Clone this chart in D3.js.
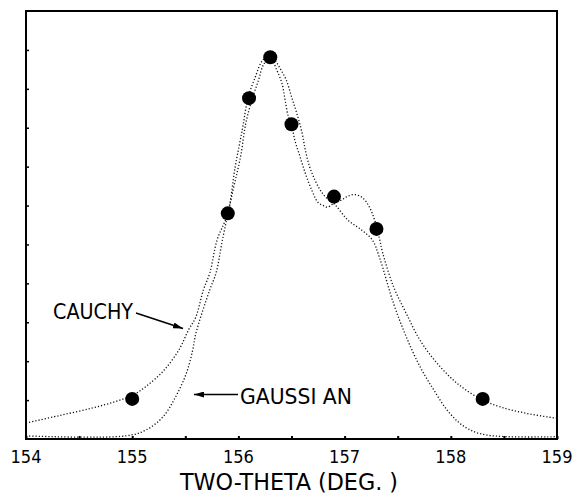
<!DOCTYPE html>
<html>
<head>
<meta charset="utf-8">
<script src="https://cdn.jsdelivr.net/npm/d3@7"></script>
<style>
  html, body { margin: 0; padding: 0; background: #fff; }
  svg { display: block; }
  text { font-family: "Liberation Sans Narrow", "DejaVu Sans Condensed", "Liberation Sans", sans-serif; fill: #000; }
</style>
</head>
<body>
<svg id="chart" width="582" height="499"></svg>
<script>
// Observed diffraction peak: two-theta (deg) and intensity
const obsTheta = [155.0, 155.9, 156.1, 156.3, 156.5, 156.9, 157.3, 158.3];
const obsIntensity = [1.03, 5.80, 8.76, 9.81, 8.09, 6.23, 5.40, 1.03];

// Fitted profile, Cauchy (Lorentzian) shape: [two-theta, intensity]
const cauchyFit = [
  [154.00, 0.41], [154.31, 0.60], [154.63, 0.80], [154.84, 0.96], [155.00, 1.12],
  [155.12, 1.33], [155.29, 1.74], [155.44, 2.29], [155.53, 2.80], [155.60, 3.14],
  [155.67, 3.83], [155.73, 4.26], [155.80, 5.12], [155.90, 5.80], [155.97, 7.00],
  [156.04, 8.00], [156.09, 8.76], [156.16, 9.31], [156.22, 9.70], [156.29, 9.86],
  [156.36, 9.49], [156.41, 9.14], [156.44, 8.71], [156.47, 8.29], [156.50, 8.09],
  [156.53, 7.69], [156.58, 7.26], [156.63, 6.83], [156.69, 6.40], [156.75, 6.08],
  [156.80, 6.00], [156.84, 5.96], [156.89, 6.04], [156.97, 6.14], [157.04, 6.25],
  [157.10, 6.28], [157.17, 6.20], [157.23, 5.98], [157.28, 5.65], [157.32, 5.25],
  [157.36, 4.77], [157.46, 3.92], [157.58, 3.23], [157.71, 2.54], [157.87, 1.95],
  [158.06, 1.43], [158.28, 1.03], [158.46, 0.83], [158.71, 0.66], [159.00, 0.53]
];

// Fitted profile, Gaussian shape: [two-theta, intensity]
const gaussianFit = [
  [154.00, 0.08], [154.94, 0.08], [155.13, 0.23], [155.29, 0.57], [155.41, 1.09],
  [155.51, 1.69], [155.57, 2.29], [155.60, 2.72], [155.73, 3.83], [155.79, 4.27],
  [155.85, 5.12], [155.95, 6.40], [156.02, 7.25], [156.07, 8.12], [156.13, 8.74],
  [156.19, 9.23], [156.24, 9.64], [156.31, 9.82], [156.36, 9.67], [156.40, 9.49],
  [156.45, 9.23], [156.50, 8.80], [156.55, 8.37], [156.60, 7.86], [156.63, 7.43],
  [156.67, 7.00], [156.72, 6.66], [156.77, 6.40], [156.82, 6.22], [156.91, 6.02],
  [157.03, 5.63], [157.16, 5.37], [157.26, 5.12], [157.33, 4.65], [157.46, 3.49],
  [157.58, 2.63], [157.71, 1.86], [157.84, 1.26], [157.99, 0.66], [158.15, 0.28],
  [158.34, 0.10], [159.00, 0.06]
];

const xTickLabels = ["154", "155", "156", "157", "158", "159"];
const xMinorTicks = [154.5, 155.5, 156.5, 157.5, 158.5];
const yTicks = [1, 2, 3, 4, 5, 6, 7, 8, 9, 10];
const xTitle = "TWO-THETA (DEG. )";
const cauchyLabel = "CAUCHY";
const gaussianLabel = "GAUSSI AN";

const svg = d3.select("#chart");
const margin = { left: 26, top: 11, right: 25, bottom: 60 };
const W = 582, H = 499;

const x = d3.scaleLinear().domain([154, 159]).range([margin.left, W - margin.right]);
const y = d3.scaleLinear().domain([0, 11]).range([H - margin.bottom, margin.top]);

// Inward ticks on the bottom edge (whole and half degrees)
const xTicks = xTickLabels.map(Number);
const bottomAxis = d3.axisBottom(x)
  .tickValues(xTicks.concat(xMinorTicks))
  .tickSizeInner(-3).tickSizeOuter(0).tickFormat("");
svg.append("g").attr("transform", `translate(0,${y(0)})`).call(bottomAxis)
  .call(g => g.select(".domain").remove())
  .selectAll("line").attr("stroke", "#000").attr("stroke-width", 2);

// Inward ticks on the left edge
const leftAxis = d3.axisLeft(y).tickValues(yTicks).tickSizeInner(-3).tickSizeOuter(0).tickFormat("");
svg.append("g").attr("transform", `translate(${x(154)},0)`).call(leftAxis)
  .call(g => g.select(".domain").remove())
  .selectAll("line").attr("stroke", "#000").attr("stroke-width", 1.5);

// Tick labels
svg.append("g").selectAll("text").data(xTickLabels).join("text")
  .attr("x", d => x(+d)).attr("y", 463)
  .attr("text-anchor", "middle")
  .attr("font-size", 18)
  .attr("textLength", 31).attr("lengthAdjust", "spacingAndGlyphs")
  .text(d => d);

// Axis title
svg.append("text")
  .attr("x", 180).attr("y", 490)
  .attr("font-size", 23)
  .attr("textLength", 218).attr("lengthAdjust", "spacingAndGlyphs")
  .text(xTitle);

// Fitted curves, dotted
const line = d3.line().x(d => x(d[0])).y(d => y(d[1])).curve(d3.curveCatmullRom.alpha(0.5));
[cauchyFit, gaussianFit].forEach(data => {
  svg.append("path").datum(data)
    .attr("d", line)
    .attr("fill", "none")
    .attr("stroke", "#111")
    .attr("stroke-width", 1.3)
    .attr("stroke-dasharray", "1.2 2");
});

// Observed points
svg.append("g").selectAll("circle").data(obsTheta).join("circle")
  .attr("cx", d => x(d))
  .attr("cy", (d, i) => y(obsIntensity[i]))
  .attr("r", 7)
  .attr("fill", "#000");

// Frame
svg.append("rect")
  .attr("x", x(154)).attr("y", y(11))
  .attr("width", x(159) - x(154)).attr("height", y(0) - y(11))
  .attr("fill", "none").attr("stroke", "#000").attr("stroke-width", 2);

// Annotations
const defs = svg.append("defs");
defs.append("marker").attr("id", "head")
  .attr("viewBox", "0 0 10 6").attr("refX", 10).attr("refY", 3)
  .attr("markerWidth", 10).attr("markerHeight", 6)
  .attr("markerUnits", "userSpaceOnUse").attr("orient", "auto")
  .append("path").attr("d", "M0,0 L10,3 L0,6 Z").attr("fill", "#000");

svg.append("text")
  .attr("x", 53).attr("y", 319)
  .attr("font-size", 21)
  .attr("textLength", 80).attr("lengthAdjust", "spacingAndGlyphs")
  .text(cauchyLabel);
svg.append("line")
  .attr("x1", 136).attr("y1", 313).attr("x2", 183).attr("y2", 328.5)
  .attr("stroke", "#000").attr("stroke-width", 1.6)
  .attr("marker-end", "url(#head)");

svg.append("text")
  .attr("x", 240).attr("y", 403.5)
  .attr("font-size", 21)
  .attr("textLength", 112).attr("lengthAdjust", "spacingAndGlyphs")
  .text(gaussianLabel);
svg.append("line")
  .attr("x1", 238).attr("y1", 394.5).attr("x2", 194).attr("y2", 394.5)
  .attr("stroke", "#000").attr("stroke-width", 1.6)
  .attr("marker-end", "url(#head)");
</script>
</body>
</html>
